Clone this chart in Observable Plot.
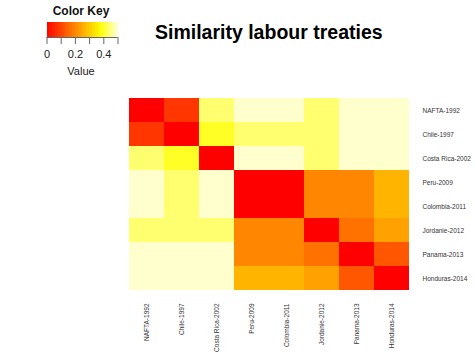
<!DOCTYPE html>
<html>
<head>
<meta charset="utf-8">
<script src="https://cdn.jsdelivr.net/npm/d3@7"></script>
<script src="https://cdn.jsdelivr.net/npm/@observablehq/plot@0.6"></script>
<style>
  html, body { margin: 0; padding: 0; background: white; }
  #wrap { position: relative; width: 475px; height: 357px; overflow: hidden; font-family: "Liberation Sans", Arial, sans-serif; }
  .abs { position: absolute; white-space: nowrap; }
</style>
</head>
<body>
<div id="wrap"></div>
<script>
const treaties = ["NAFTA-1992","Chile-1997","Costa Rica-2002","Peru-2009","Colombia-2011","Jordanie-2012","Panama-2013","Honduras-2014"];
const rowNAFTA    = [0.00, 0.08, 0.44, 0.49, 0.49, 0.44, 0.49, 0.49];
const rowChile    = [0.08, 0.00, 0.40, 0.44, 0.44, 0.44, 0.49, 0.49];
const rowCosta    = [0.44, 0.40, 0.00, 0.49, 0.49, 0.44, 0.49, 0.49];
const rowPeru     = [0.49, 0.44, 0.49, 0.00, 0.00, 0.20, 0.20, 0.27];
const rowColombia = [0.49, 0.44, 0.49, 0.00, 0.00, 0.20, 0.20, 0.27];
const rowJordanie = [0.44, 0.44, 0.44, 0.20, 0.20, 0.00, 0.17, 0.24];
const rowPanama   = [0.49, 0.49, 0.49, 0.20, 0.20, 0.17, 0.00, 0.13];
const rowHonduras = [0.49, 0.49, 0.49, 0.27, 0.27, 0.24, 0.13, 0.00];
const keyTicks = [0, 0.1, 0.2, 0.3, 0.4, 0.5];
const keyTickLabels = ["0", "", "0.2", "", "0.4", ""];
const keyBandStarts = [0,0.02,0.04,0.06,0.08,0.10,0.12,0.14,0.16,0.18,0.20,0.22,0.24,0.26,0.28,0.30,0.32,0.34,0.36,0.38,0.40,0.42,0.44,0.46,0.48];

const matrix = [rowNAFTA,rowChile,rowCosta,rowPeru,rowColombia,rowJordanie,rowPanama,rowHonduras];
const cells = matrix.flatMap((r, i) => r.map((v, j) => ({row: treaties[i], col: treaties[j], value: v})));

const colorScale = {type: "linear", domain: [0, 0.38, 0.5], range: ["#ff0000", "#ffff00", "#ffffe0"]};

const wrap = document.getElementById("wrap");

const main = Plot.plot({
  width: 475, height: 357,
  marginLeft: 129, marginRight: 66, marginTop: 97, marginBottom: 66,
  style: {fontFamily: "'Liberation Sans', Arial, sans-serif", background: "white"},
  x: {domain: treaties, padding: 0, axis: null},
  y: {domain: treaties, padding: 0, axis: null},
  color: colorScale,
  marks: [
    Plot.cell(cells, {x: "col", y: "row", fill: "value", inset: 0, shapeRendering: "crispEdges"}),
    Plot.axisX({anchor: "bottom", tickSize: 0, tickRotate: -90, tickPadding: 12, fontSize: 6.5, fill: "#333", label: null}),
    Plot.axisY({anchor: "right", tickSize: 0, tickPadding: 13, fontSize: 6.5, fill: "#333", label: null})
  ]
});
main.style.position = "absolute"; main.style.left = "0px"; main.style.top = "0px";
wrap.appendChild(main);

const key = Plot.plot({
  width: 150, height: 90,
  marginLeft: 46.5, marginRight: 32.5, marginTop: 22, marginBottom: 53,
  style: {fontFamily: "'Liberation Sans', Arial, sans-serif", background: "transparent", overflow: "visible"},
  x: {domain: [0, 0.5], axis: null},
  y: {domain: [0, 1], axis: null},
  color: colorScale,
  marks: [
    Plot.rect(keyBandStarts, {x1: d => d, x2: d => d + 0.02, y1: 0, y2: 1, fill: d => d + 0.01, shapeRendering: "crispEdges"}),
    Plot.ruleY([0], {x1: 0, x2: 0.5, stroke: "#666"}),
    Plot.axisX({anchor: "bottom", ticks: keyTicks, tickSize: 7, tickPadding: 6, fontSize: 11, stroke: "#666", color: "#222",
      tickFormat: (d, i) => keyTickLabels[i], label: null})
  ]
});
key.style.position = "absolute"; key.style.left = "0px"; key.style.top = "0px";
wrap.appendChild(key);

function addText(txt, css) {
  const d = document.createElement("div");
  d.className = "abs";
  d.textContent = txt;
  Object.assign(d.style, css);
  wrap.appendChild(d);
  return d;
}
addText("Color Key", {left: "0px", width: "162px", textAlign: "center", top: "4px", fontSize: "12px", fontWeight: "bold", color: "#111"});
addText("Value", {left: "0px", width: "162px", textAlign: "center", top: "65px", fontSize: "11px", color: "#222"});
addText("Similarity labour treaties", {left: "155px", top: "21px", fontSize: "19.5px", fontWeight: "bold", color: "#000"});
</script>
</body>
</html>
